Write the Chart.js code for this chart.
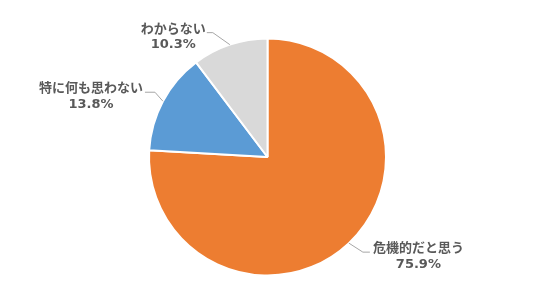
<!DOCTYPE html>
<html>
<head>
<meta charset="utf-8">
<script src="https://cdn.jsdelivr.net/npm/chart.js@4/dist/chart.umd.min.js"></script>
<style>
  html, body { margin: 0; padding: 0; background: #fff; }
  #wrap { width: 542px; height: 289px; }
</style>
</head>
<body>
<div id="wrap"><canvas id="pieChart"></canvas></div>
<script>
// Daten
const kategorien = ["危機的だと思う", "特に何も思わない", "わからない"];
const anteile = [75.9, 13.8, 10.3];
const farben = ["#ED7D31", "#5B9BD5", "#D9D9D9"];

// Beschriftungen mit Führungslinien (wie Excel)
const labelPlugin = {
  id: "pieLabels",
  afterDatasetsDraw(chart, args, opts) {
    const ctx = chart.ctx;
    const meta = chart.getDatasetMeta(0);
    ctx.save();
    ctx.textBaseline = "middle";
    ctx.textAlign = "center";
    meta.data.forEach((arc, i) => {
      const mid = (arc.startAngle + arc.endAngle) / 2;
      const r = arc.outerRadius;
      const x0 = arc.x + Math.cos(mid) * r;
      const y0 = arc.y + Math.sin(mid) * r;
      const lp = opts.leader[i];
      const x1 = x0 + lp.dx, y1 = y0 + lp.dy;
      const x2 = x1 + lp.h;
      const right = lp.h > 0;

      // Führungslinie
      ctx.strokeStyle = "#A6A6A6";
      ctx.lineWidth = 1;
      ctx.beginPath();
      ctx.moveTo(x0, y0);
      ctx.lineTo(x1, y1);
      ctx.lineTo(x2, y1);
      ctx.stroke();

      // Text (Kategorie + Prozent)
      const f1 = "bold 13px 'Noto Sans CJK JP', sans-serif";
      const f2 = "bold 13px 'DejaVu Sans', sans-serif";
      const t1 = kategorien[i];
      const t2 = anteile[i].toFixed(1) + "%";
      ctx.font = f1;
      const w1 = ctx.measureText(t1).width;
      ctx.font = f2;
      const w2 = ctx.measureText(t2).width;
      const w = Math.max(w1, w2);
      const cx = right ? x2 + lp.gap + w / 2 : x2 - lp.gap - w / 2;
      const cy = y1 + 3;
      ctx.fillStyle = "#595959";
      ctx.font = f1;
      ctx.fillText(t1, cx, cy - 8);
      ctx.font = f2;
      ctx.fillText(t2, cx, cy + 9);
    });
    ctx.restore();
  }
};

new Chart(document.getElementById("pieChart"), {
  type: "pie",
  data: {
    labels: kategorien,
    datasets: [{
      data: anteile,
      backgroundColor: farben,
      borderColor: "#ffffff",
      borderWidth: 2
    }]
  },
  options: {
    responsive: true,
    maintainAspectRatio: false,
    animation: false,
    layout: { padding: { top: 37.5, bottom: 12.5, left: 0, right: 7 } },
    plugins: {
      legend: { display: false },
      tooltip: { enabled: false },
      pieLabels: {
        leader: [
          { dx: 14, dy: 9, h: 7, gap: 3 },
          { dx: -8, dy: -9, h: -10, gap: 2 },
          { dx: -17, dy: -12, h: -6, gap: 1 }
        ]
      }
    }
  },
  plugins: [labelPlugin]
});
</script>
</body>
</html>
